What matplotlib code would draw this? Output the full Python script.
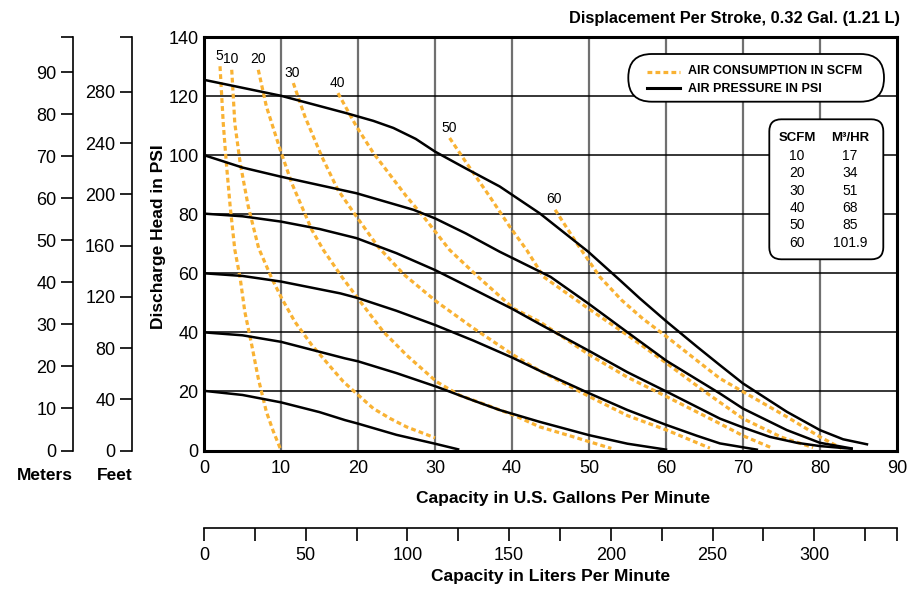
import matplotlib
matplotlib.use('Agg')
import matplotlib.pyplot as plt
from matplotlib.patches import FancyBboxPatch
from matplotlib.lines import Line2D
from matplotlib.ticker import FixedLocator

plt.rcParams['font.family'] = ['Liberation Sans Narrow', 'Liberation Sans', 'DejaVu Sans']

# air pressure curves (solid black), gpm vs discharge psi
p125_gpm = [0, 10, 18.5, 22, 24.6, 27.5, 30, 34, 38.4, 43.6, 49.9, 54, 56.6, 60.1, 64, 67, 70, 75.7, 80, 83, 86.1]
p125_psi = [125.5, 120.1, 114.2, 111.6, 109.2, 105.5, 101.2, 95.5, 89.4, 80.3, 67.3, 57.7, 51.5, 43.6, 35.2, 28.9, 22.7, 13.1, 6.9, 3.8, 2.1]
p100_gpm = [0, 5, 10, 19.8, 27.2, 30, 34, 38.4, 45, 49.9, 54.9, 60.1, 67, 70, 75.7, 80, 84.1]
p100_psi = [100, 95.8, 92.7, 87.1, 81.5, 78.6, 73.5, 67.3, 58.8, 49.8, 40.2, 30.3, 19.3, 14.2, 6.9, 2.6, 0.7]
p80_gpm = [0, 5, 10, 15, 19.8, 25, 30, 35.6, 40, 43.6, 50.1, 55, 60.1, 67, 70, 73.5, 77, 80, 84.1]
p80_psi = [80.2, 79.3, 77.5, 75, 71.9, 66.8, 61.1, 53.8, 48, 42.8, 33.6, 26.5, 19.9, 10.8, 7.8, 4.6, 2.6, 1.5, 0.6]
p60_gpm = [0, 5, 10, 17.7, 20, 25, 30, 35, 40, 43.6, 50, 55, 60, 64, 67, 71.8]
p60_psi = [60, 59.1, 57.2, 53.2, 51.6, 47.3, 42.5, 37.2, 31.5, 27, 19.4, 13.7, 8.7, 5, 2.4, 0.3]
p40_gpm = [0, 5, 10, 18.3, 20, 25, 30.2, 35, 38.4, 43.6, 50, 55, 60]
p40_psi = [40, 39, 36.8, 31.2, 30.2, 26.2, 21.6, 16.9, 13.7, 9.7, 5.2, 2.3, 0.3]
p20_gpm = [0, 5, 10, 15, 18.3, 20, 25, 30, 33]
p20_psi = [20.2, 18.8, 16.3, 13, 10.3, 9.1, 5.3, 2.3, 0.4]

# air consumption curves (dashed orange), scfm
s5_gpm = [2.08, 2.3, 2.5, 2.9, 3.4, 4.0, 4.7, 5.3, 6.2, 7.05, 8.1, 9.0, 9.9]
s5_psi = [130.1, 120, 110.8, 97.3, 82.6, 68, 58.3, 47, 35.7, 24.4, 13.1, 6.5, 0.7]
s10_gpm = [3.6, 3.8, 4.0, 4.7, 5.75, 7.1, 8.8, 10.1, 11.8, 14, 16.6, 18.1, 19.8, 22, 24.2, 26.3, 30]
s10_psi = [128.9, 120, 110.8, 97.3, 82.6, 68.5, 58.3, 51.5, 43.6, 35.7, 27.8, 23.3, 19.3, 14.2, 10.8, 8, 4.3]
s20_gpm = [7.05, 8.1, 9.9, 11.4, 14, 15.5, 17.9, 20.3, 23.3, 26.3, 30.2, 33.2, 36.7, 40.2, 43.6, 48, 52.9]
s20_psi = [128.9, 116.5, 101.8, 90.5, 74.7, 67.9, 58.8, 50.4, 40.2, 32.3, 23.3, 18.7, 15.4, 12, 8, 4.6, 0.7]
s30_gpm = [11.6, 13.1, 15.3, 17.4, 19.8, 22.6, 26, 30.2, 35, 40.2, 43.6, 50.1, 55, 60.1, 65.7]
s30_psi = [124.4, 113.1, 99.5, 88.2, 79.2, 69, 59.5, 50.4, 41.4, 32.3, 27, 18.2, 11.8, 6.9, 0.8]
s40_gpm = [17.4, 19.8, 22, 26.3, 28.5, 31.9, 35.8, 40.2, 43.6, 50.1, 55, 60.1, 67, 70, 73.9]
s40_psi = [121, 109.7, 100.7, 86, 79.2, 67.9, 58.3, 48.1, 43.6, 32.3, 24.8, 18.2, 9.1, 5, 0.7]
s50_gpm = [31.9, 34.1, 37.1, 39.7, 41.9, 44.1, 49.9, 55.3, 60.1, 65, 70, 75, 79.1]
s50_psi = [105.8, 97.3, 86, 75.8, 67.9, 58.8, 48.1, 38.5, 29.5, 20, 10.8, 4.5, 1.0]
s60_gpm = [45.6, 48.4, 51.4, 54.2, 57, 60.1, 64, 67, 70, 75.7, 80, 82.8]
s60_psi = [81.5, 70.2, 58.8, 51, 44.6, 38.5, 30.5, 24.4, 19.9, 11.4, 4.6, 0.7]

pressure_curves = [(p125_gpm, p125_psi), (p100_gpm, p100_psi), (p80_gpm, p80_psi),
                   (p60_gpm, p60_psi), (p40_gpm, p40_psi), (p20_gpm, p20_psi)]
scfm_labels = ['5', '10', '20', '30', '40', '50', '60']
scfm_curves = [(s5_gpm, s5_psi), (s10_gpm, s10_psi), (s20_gpm, s20_psi), (s30_gpm, s30_psi),
               (s40_gpm, s40_psi), (s50_gpm, s50_psi), (s60_gpm, s60_psi)]

table_scfm = ['10', '20', '30', '40', '50', '60']
table_m3hr = ['17', '34', '51', '68', '85', '101.9']

W, H = 909, 591
ORANGE = '#F9B233'
PSI_TO_M = 0.70307
PSI_TO_FT = 2.30666
GAL_TO_L = 3.78541


def fx(x):
    return x / W


def fy(y):
    return 1 - y / H


fig = plt.figure(figsize=(W / 100, H / 100), dpi=100)
ax = fig.add_axes([fx(204), fy(450.5), 693 / W, 413.5 / H])
ax.set_xlim(0, 90)
ax.set_ylim(0, 140)
ax.set_xticks(range(0, 91, 10))
ax.set_yticks(range(0, 141, 20))
ax.tick_params(axis='x', length=0, labelsize=13, pad=7)
ax.tick_params(axis='y', length=0, labelsize=13, pad=4)
for s in ax.spines.values():
    s.set_linewidth(2.2)
for x in range(10, 90, 10):
    ax.axvline(x, color='#707070', lw=1.6, zorder=1)
for y in range(20, 140, 20):
    ax.axhline(y, color='black', lw=1.1, zorder=1)

for g, p in scfm_curves:
    ax.plot(g, p, color=ORANGE, lw=2.3, ls=(0, (1.5, 1.0)), dash_capstyle='butt', zorder=3)
for lab, (g, p) in zip(scfm_labels, scfm_curves):
    ax.annotate(lab, (g[0], p[0]), xytext=(-0.5, 7.5), textcoords='offset points',
                ha='center', va='center', fontsize=10, zorder=5)
for g, p in pressure_curves:
    ax.plot(g, p, color='black', lw=1.8, zorder=4)

# meters / feet head scales
meters = ax.secondary_yaxis((73 - 204) / 693, functions=(lambda p: p * PSI_TO_M, lambda m: m / PSI_TO_M))
meters.set_yticks(range(0, 91, 10))
meters.yaxis.set_minor_locator(FixedLocator([140 * PSI_TO_M]))
feet = ax.secondary_yaxis((132 - 204) / 693, functions=(lambda p: p * PSI_TO_FT, lambda f: f / PSI_TO_FT))
feet.set_yticks(range(0, 281, 40))
feet.yaxis.set_minor_locator(FixedLocator([140 * PSI_TO_FT]))
for sec in (meters, feet):
    sec.spines['left'].set_linewidth(1.2)
    sec.tick_params(which='both', length=9, width=1.2, labelsize=13, pad=3)

# liters scale
liters = ax.secondary_xaxis((450.5 - 528) / 413.5, functions=(lambda g: g * GAL_TO_L, lambda l: l / GAL_TO_L))
liters.set_xticks(range(0, 301, 50))
liters.xaxis.set_minor_locator(FixedLocator(list(range(25, 340, 50)) + [90 * GAL_TO_L]))
liters.spines['bottom'].set_linewidth(1.2)
liters.tick_params(which='both', length=9, width=1.2, labelsize=13, pad=5)

bold = dict(fontweight='bold', ha='center', va='center')
fig.text(fx(563), fy(498), 'Capacity in U.S. Gallons Per Minute', fontsize=12.5, **bold)
fig.text(fx(551), fy(577), 'Capacity in Liters Per Minute', fontsize=12.5, **bold)
fig.text(fx(158), fy(237), 'Discharge Head in PSI', fontsize=12.5, rotation=90, **bold)
fig.text(fx(45), fy(475), 'Meters', fontsize=12.5, **bold)
fig.text(fx(115), fy(475), 'Feet', fontsize=12.5, **bold)
fig.text(fx(900), fy(18), 'Displacement Per Stroke, 0.32 Gal. (1.21 L)', fontsize=11.8,
         fontweight='bold', ha='right', va='center')

# legend pill
tr = fig.dpi_scale_trans
fig.add_artist(FancyBboxPatch((6.283, (H - 101.7) / 100), 2.557, 0.477,
                              boxstyle='round,pad=0,rounding_size=0.235',
                              transform=tr, fc='white', ec='black', lw=1.3, zorder=5))
fig.add_artist(Line2D([6.467, 6.80], [(H - 71.5) / 100] * 2, transform=tr, color=ORANGE,
                      lw=2.3, ls=(0, (1.5, 1.0)), zorder=6))
fig.add_artist(Line2D([6.467, 6.80], [(H - 88) / 100] * 2, transform=tr, color='black',
                      lw=2.2, zorder=6))
fig.text(fx(688), fy(70.5), 'AIR CONSUMPTION IN SCFM', fontsize=9, fontweight='bold',
         va='center', ha='left', zorder=6)
fig.text(fx(688), fy(89.5), 'AIR PRESSURE IN PSI', fontsize=9, fontweight='bold',
         va='center', ha='left', zorder=6)

# conversion table
fig.add_artist(FancyBboxPatch((7.693, (H - 259.3) / 100), 1.14, 1.40,
                              boxstyle='round,pad=0,rounding_size=0.12',
                              transform=tr, fc='white', ec='black', lw=1.3, zorder=5))
fig.text(fx(797), fy(138), 'SCFM', fontsize=9.5, fontweight='bold', ha='center', va='center', zorder=6)
fig.text(fx(850), fy(138), 'M³/HR', fontsize=9.5, fontweight='bold', ha='center', va='center', zorder=6)
for i, (a, b) in enumerate(zip(table_scfm, table_m3hr)):
    y = 156 + i * 17.35
    fig.text(fx(797), fy(y), a, fontsize=10, ha='center', va='center', zorder=6)
    fig.text(fx(850), fy(y), b, fontsize=10, ha='center', va='center', zorder=6)

fig.savefig('out.png', dpi=100)
